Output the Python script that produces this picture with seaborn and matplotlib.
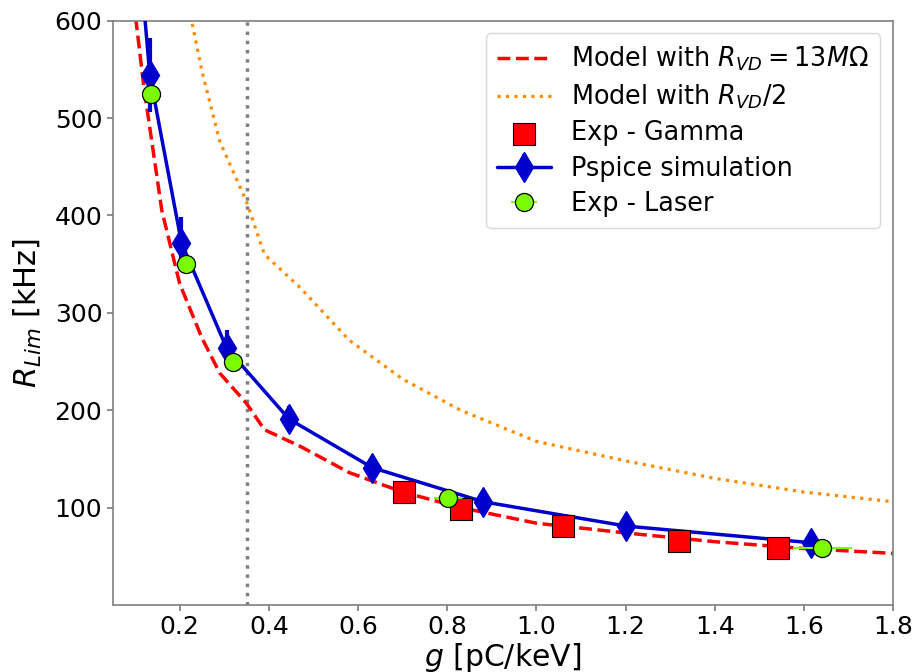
import matplotlib
matplotlib.use("Agg")
import matplotlib.pyplot as plt
import seaborn as sns
import pandas as pd

# ---- data ----
g_model = [0.09, 0.10, 0.12, 0.16, 0.20, 0.25, 0.29, 0.35, 0.39, 0.47, 0.58,
           0.70, 0.83, 1.00, 1.20, 1.40, 1.60, 1.80]
r_model = [680, 608, 531, 405, 330, 274, 238, 207, 180, 163, 136,
           116, 100, 84, 74, 65, 58, 53]
r_model_half = [1360, 1216, 1062, 810, 660, 548, 476, 414, 360, 326, 272,
                232, 200, 168, 148, 130, 116, 106]

g_gamma = [0.703, 0.831, 1.060, 1.320, 1.541]
r_gamma = [116, 99, 81, 66, 59]

g_pspice = [0.100, 0.133, 0.204, 0.305, 0.445, 0.632, 0.881, 1.202, 1.615]
r_pspice = [720, 544, 372, 264, 191, 141, 106, 81, 64]
r_pspice_err = [50, 38, 26, 18, 13, 10, 7, 6, 4]

g_laser = [0.136, 0.215, 0.320, 0.802, 1.641]
r_laser = [525, 350, 250, 110, 59]
g_laser_err = [0.0054, 0.0086, 0.0128, 0.032, 0.066]

g_limit = 0.35
x_ticks = [0.2, 0.4, 0.6, 0.8, 1.0, 1.2, 1.4, 1.6, 1.8]
y_ticks = [100, 200, 300, 400, 500, 600]

# ---- style ----
sns.set_theme(style="ticks", rc={
    "axes.edgecolor": "0.5",
    "xtick.color": "0.5",
    "ytick.color": "0.5",
    "xtick.labelcolor": "black",
    "ytick.labelcolor": "black",
    "text.color": "black",
    "axes.labelcolor": "black",
    "axes.linewidth": 1.2,
})
plt.rcParams["font.family"] = ["DejaVu Sans"]

fig = plt.figure(figsize=(9.17, 6.72), dpi=100)
ax = fig.add_axes([0.123, 0.0997, 0.851, 0.8695])

df_model = pd.DataFrame({"g": g_model, "r": r_model, "r2": r_model_half})

sns.lineplot(data=df_model, x="g", y="r", ax=ax, color="red", lw=2.5,
             linestyle="--", estimator=None, sort=False,
             label=r"Model with $R_{VD} = 13M\Omega$")
sns.lineplot(data=df_model, x="g", y="r2", ax=ax, color="darkorange", lw=2.3,
             linestyle=":", estimator=None, sort=False,
             label=r"Model with $R_{VD}/2$")

ax.axvline(g_limit, color="gray", linestyle=":", lw=2.5, zorder=1)

ax.errorbar(g_pspice, r_pspice, yerr=r_pspice_err, fmt="-d",
            color="mediumblue", lw=2.5, elinewidth=3, ms=15,
            label="Pspice simulation", zorder=3)

df_gamma = pd.DataFrame({"g": g_gamma, "r": r_gamma})
sns.scatterplot(data=df_gamma, x="g", y="r", ax=ax, marker="s", s=240,
                color="red", edgecolor="black", linewidth=0.8, zorder=4,
                label="Exp - Gamma")

ax.errorbar(g_laser, r_laser, xerr=g_laser_err, fmt="o",
            color="lawngreen", mfc="lawngreen", mec="black", mew=0.9,
            ms=13, elinewidth=1.5, label="Exp - Laser", zorder=5)

ax.set_xlim(0.05, 1.8)
ax.set_ylim(0, 600)
ax.set_xticks(x_ticks)
ax.set_yticks(y_ticks)
ax.tick_params(labelsize=18, length=4)
ax.set_xlabel(r"$g$ [pC/keV]", fontsize=21.5, labelpad=1)
ax.set_ylabel(r"$R_{Lim}$ [kHz]", fontsize=22, labelpad=8)
for s in ax.spines.values():
    s.set_visible(True)

handles, labels = ax.get_legend_handles_labels()
order = ["Model with $R_{VD} = 13M\\Omega$", "Model with $R_{VD}/2$",
         "Exp - Gamma", "Pspice simulation", "Exp - Laser"]
hl = dict(zip(labels, handles))
ax.legend([hl[k] for k in order], order, loc="upper right", fontsize=18.4,
          frameon=True, fancybox=True, framealpha=1, edgecolor="0.85",
          borderpad=0.45, labelspacing=0.36, handlelength=2.1,
          borderaxespad=0.5)

fig.savefig("out.png", dpi=100)
